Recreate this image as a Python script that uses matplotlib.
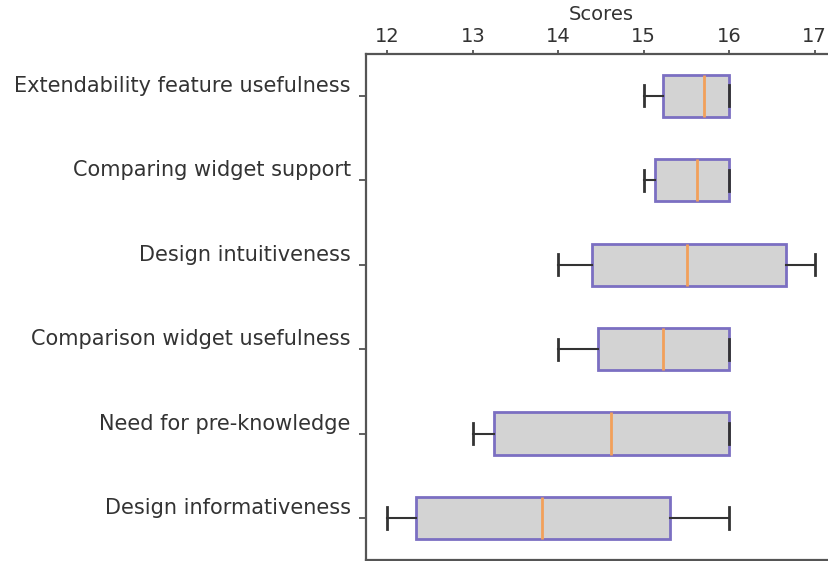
import matplotlib
matplotlib.use("Agg")
import matplotlib.pyplot as plt

categories = [
    "Extendability feature usefulness",
    "Comparing widget support",
    "Design intuitiveness",
    "Comparison widget usefulness",
    "Need for pre-knowledge",
    "Design informativeness",
]
whisker_low = [15.0, 15.0, 14.0, 14.0, 13.0, 12.0]
q1 = [15.22, 15.13, 14.40, 14.47, 13.25, 12.33]
median = [15.70, 15.62, 15.51, 15.23, 14.62, 13.81]
q3 = [16.0, 16.0, 16.66, 16.0, 16.0, 15.31]
whisker_high = [16.0, 16.0, 17.0, 16.0, 16.0, 16.0]
x_ticks = [12, 13, 14, 15, 16, 17]

stats = [
    dict(label=c, whislo=lo, q1=a, med=m, q3=b, whishi=hi, fliers=[])
    for c, lo, a, m, b, hi in zip(categories, whisker_low, q1, median, q3, whisker_high)
]

text_color = "#333333"
plt.rcParams["font.family"] = "DejaVu Sans"

fig = plt.figure(figsize=(8.29, 5.61), dpi=100)
ax = fig.add_axes([366 / 829, 0.0015, (836 - 366) / 829, (561 - 54.5) / 561])

positions = list(range(1, len(categories) + 1))
ax.bxp(
    stats,
    positions=positions,
    orientation="horizontal",
    widths=0.5,
    patch_artist=True,
    boxprops=dict(facecolor="#d3d3d3", edgecolor="#7b6fc2", linewidth=2.0),
    medianprops=dict(color="#f2a05a", linewidth=2.0),
    whiskerprops=dict(color="#333333", linewidth=1.5),
    capprops=dict(color="#333333", linewidth=2.0),
)

ax.set_ylim(len(categories) + 0.5, 0.5)
ax.set_xlim(11.75, 17.25)
ax.set_xticks(x_ticks)
ax.set_xticklabels([str(t) for t in x_ticks], fontsize=14, color=text_color)
ax.xaxis.set_ticks_position("top")
ax.xaxis.set_label_position("top")
ax.set_xlabel("Scores", fontsize=14, color=text_color, labelpad=5)
ax.tick_params(axis="x", length=3.0, width=1.2, color="#444444", pad=2.4)

ax.set_yticks(positions)
ax.set_yticklabels(categories, fontsize=15, color=text_color, va="bottom")
ax.tick_params(axis="y", length=5, width=1.2, color="#444444", pad=6)

for side in ax.spines.values():
    side.set_color("#555555")
    side.set_linewidth(1.6)

fig.savefig("out.png", dpi=100)
